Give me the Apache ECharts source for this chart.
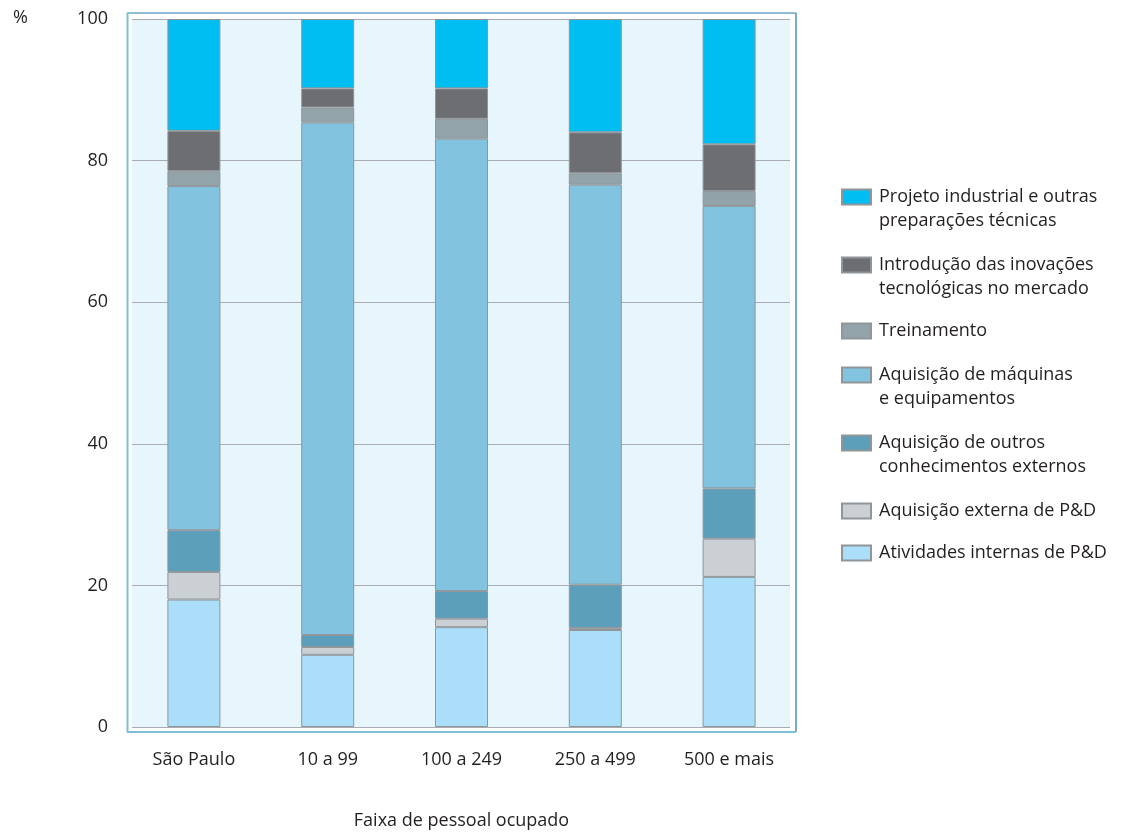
<!DOCTYPE html>
<html>
<head>
<meta charset="utf-8">
<script src="https://cdn.jsdelivr.net/npm/echarts@6/dist/echarts.min.js"></script>
<style>
  html, body { margin: 0; padding: 0; background: #ffffff; }
  #chart { width: 1123px; height: 832px; }
</style>
</head>
<body>
<div id="chart"></div>
<script>
// Faixas de pessoal ocupado
const categories = ['São Paulo', '10 a 99', '100 a 249', '250 a 499', '500 e mais'];

// Distribuição dos gastos em atividades inovativas (%), de baixo para cima
const atividadesInternas = [18.0, 10.2, 14.1, 13.7, 21.2];
const aquisicaoExterna = [3.9, 1.1, 1.2, 0.3, 5.4];
const outrosConhecimentos = [5.9, 1.7, 3.9, 6.1, 7.1];
const maquinasEquipamentos = [48.6, 72.4, 63.9, 56.5, 39.9];
const treinamento = [2.1, 2.1, 2.8, 1.6, 2.1];
const introducaoMercado = [5.7, 2.7, 4.3, 5.8, 6.6];
const projetoIndustrial = [15.8, 9.8, 9.8, 16.0, 17.7];

const yTicks = [0, 20, 40, 60, 80, 100];

const FONT = '"Open Sans", "Noto Sans", sans-serif';
const TEXT = '#231f20';

const seriesDefs = [
  { name: 'Atividades internas de P&D', data: atividadesInternas, color: '#abdff9', lines: 1, legendY: 551 },
  { name: 'Aquisição externa de P&D', data: aquisicaoExterna, color: '#cbd0d4', lines: 1, legendY: 509 },
  { name: 'Aquisição de outros\nconhecimentos externos', data: outrosConhecimentos, color: '#5c9fba', lines: 2, legendY: 441 },
  { name: 'Aquisição de máquinas\ne equipamentos', data: maquinasEquipamentos, color: '#82c3e0', lines: 2, legendY: 373 },
  { name: 'Treinamento', data: treinamento, color: '#93a3aa', lines: 1, legendY: 329 },
  { name: 'Introdução das inovações\ntecnológicas no mercado', data: introducaoMercado, color: '#6d6e72', lines: 2, legendY: 263 },
  { name: 'Projeto industrial e outras\npreparações técnicas', data: projetoIndustrial, color: '#00bef2', lines: 2, legendY: 195 }
];

const LINE_H = 24;

// one legend block per series so each entry sits at its own height;
// two-line labels get an empty leading line so the swatch lines up
// with the first line of text
const legends = seriesDefs.map(s => ({
  orient: 'vertical',
  left: 841,
  top: s.legendY + 2 - (s.lines === 2 ? LINE_H * 1.5 : LINE_H / 2),
  padding: 0,
  itemWidth: 29,
  itemHeight: 15,
  icon: 'rect',
  selectedMode: false,
  data: [s.name],
  formatter: name => (s.lines === 2 ? '\n' + name : name),
  textStyle: {
    fontFamily: FONT,
    fontSize: 18,
    color: TEXT,
    lineHeight: LINE_H,
    padding: [0, 0, 0, 3]
  }
}));

const chart = echarts.init(document.getElementById('chart'), null, { renderer: 'canvas' });

chart.setOption({
  backgroundColor: '#ffffff',
  animation: false,
  legend: legends,
  grid: [
    // bars
    { left: 127, right: 327, top: 19, bottom: 105, outerBoundsMode: 'none' },
    // shaded plot area with gridlines
    { left: 132, right: 333, top: 19, bottom: 105, outerBoundsMode: 'none', show: true, backgroundColor: '#e7f5fc', borderWidth: 0 }
  ],
  xAxis: [
    {
      type: 'category',
      gridIndex: 0,
      data: categories,
      axisLine: { show: false },
      axisTick: { show: false },
      axisLabel: { fontFamily: FONT, fontSize: 18, color: TEXT, margin: 24 },
      name: 'Faixa de pessoal ocupado',
      nameLocation: 'middle',
      nameGap: 85,
      nameTextStyle: { fontFamily: FONT, fontSize: 18, color: TEXT }
    },
    { type: 'value', gridIndex: 1, show: false, min: 0, max: 1 }
  ],
  yAxis: [
    {
      type: 'value',
      gridIndex: 0,
      min: 0,
      max: 100,
      interval: 20,
      axisLine: { show: false },
      axisTick: { show: false },
      splitLine: { show: false },
      axisLabel: { fontFamily: FONT, fontSize: 18, color: TEXT, margin: 19 }
    },
    {
      type: 'value',
      gridIndex: 1,
      min: yTicks[0],
      max: yTicks[yTicks.length - 1],
      interval: 20,
      axisLine: { show: false },
      axisTick: { show: false },
      axisLabel: { show: false },
      splitLine: { show: true, lineStyle: { color: '#a9adb3', width: 1.2 } }
    }
  ],
  graphic: [
    // outer frame around the plot area
    { type: 'line', shape: { x1: 127, y1: 13, x2: 796, y2: 13 }, style: { stroke: '#1f7fae', lineWidth: 1.2 }, z: 1 },
    { type: 'line', shape: { x1: 796, y1: 13, x2: 796, y2: 732 }, style: { stroke: '#1f74a0', lineWidth: 1.2 }, z: 1 },
    { type: 'line', shape: { x1: 127.5, y1: 13, x2: 127.5, y2: 732 }, style: { stroke: '#7fbfd6', lineWidth: 2 }, z: 1 },
    { type: 'line', shape: { x1: 127, y1: 732, x2: 796, y2: 732 }, style: { stroke: '#7fbfd6', lineWidth: 2 }, z: 1 },
    { type: 'text', left: 13, top: 9, style: { text: '%', fontFamily: FONT, fontSize: 18, fill: TEXT } }
  ],
  series: seriesDefs.map(s => ({
    name: s.name,
    type: 'bar',
    stack: 'total',
    xAxisIndex: 0,
    yAxisIndex: 0,
    barWidth: 53,
    data: s.data,
    itemStyle: { color: s.color, borderColor: '#90959a', borderWidth: 1 },
    emphasis: { disabled: true }
  }))
});
</script>
</body>
</html>
